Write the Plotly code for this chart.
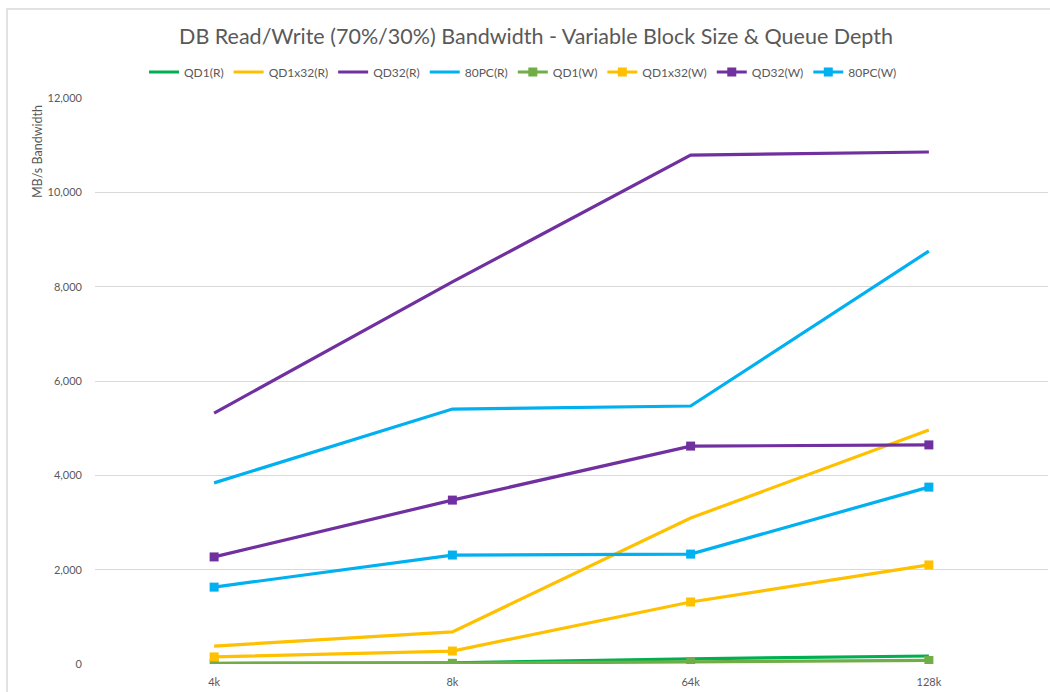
import plotly.graph_objects as go

categories = ["4k", "8k", "64k", "128k"]

qd1_r = [15, 25, 110, 170]
qd1x32_r = [380, 680, 3095, 4960]
qd32_r = [5320, 8100, 10790, 10855]
pc80_r = [3840, 5405, 5470, 8755]
qd1_w = [10, 15, 45, 75]
qd1x32_w = [150, 275, 1315, 2100]
qd32_w = [2270, 3475, 4620, 4645]
pc80_w = [1630, 2310, 2330, 3750]

series = [
    ("QD1(R)", qd1_r, "#00B050", False),
    ("QD1x32(R)", qd1x32_r, "#FFC000", False),
    ("QD32(R)", qd32_r, "#7030A0", False),
    ("80PC(R)", pc80_r, "#00B0F0", False),
    ("QD1(W)", qd1_w, "#70AD47", True),
    ("QD1x32(W)", qd1x32_w, "#FFC000", True),
    ("QD32(W)", qd32_w, "#7030A0", True),
    ("80PC(W)", pc80_w, "#00B0F0", True),
]

fig = go.Figure()
for name, vals, color, mark in series:
    fig.add_trace(go.Scatter(
        x=categories, y=vals, name=name,
        mode="lines+markers" if mark else "lines",
        line=dict(color=color, width=3.2),
        marker=dict(symbol="square", size=9, color=color),
    ))

font_family = "Lato, 'Open Sans', sans-serif"
grey = "#595959"

fig.update_layout(
    width=1050, height=692,
    margin=dict(l=95, r=2, t=98, b=28),
    paper_bgcolor="white", plot_bgcolor="white",
    font=dict(family=font_family, color=grey, size=11),
    title=dict(text="DB Read/Write (70%/30%) Bandwidth - Variable Block Size & Queue Depth",
               x=536 / 1050, xanchor="center", y=1 - 36 / 692, yanchor="middle",
               font=dict(size=21.5, color=grey, family=font_family)),
    legend=dict(orientation="h", x=(523 - 95) / 953, xanchor="center", y=1 - 72 / 692, yref="container",
                yanchor="middle", font=dict(size=12, color=grey), itemwidth=30,
                tracegroupgap=0),
    showlegend=True,
    xaxis=dict(type="category", range=[-0.5, 3.5], showgrid=False, zeroline=False,
               showline=False, ticks="", ticklabelstandoff=10, tickfont=dict(size=11, color=grey)),
    yaxis=dict(range=[0, 12000], dtick=2000, tickformat=",", showgrid=True,
               gridcolor="#D9D9D9", gridwidth=1, zeroline=False, showline=False,
               ticks="", ticklabelstandoff=12, tickfont=dict(size=11, color=grey)),
)

fig.add_annotation(text="MB/s Bandwidth", textangle=-90, xref="paper", yref="paper",
                   x=(37 - 95) / 953, y=(664 - 152) / 566, xanchor="center", yanchor="middle",
                   showarrow=False, font=dict(size=12.5, color=grey))

fig.add_shape(type="path", xref="paper", yref="paper",
              path=f"M {(7-95)/953} {-0.2} L {(7-95)/953} {(664-9)/566} L {1.01} {(664-9)/566}",
              line=dict(color="#D9D9D9", width=1.5))

fig.write_html("out.html")
